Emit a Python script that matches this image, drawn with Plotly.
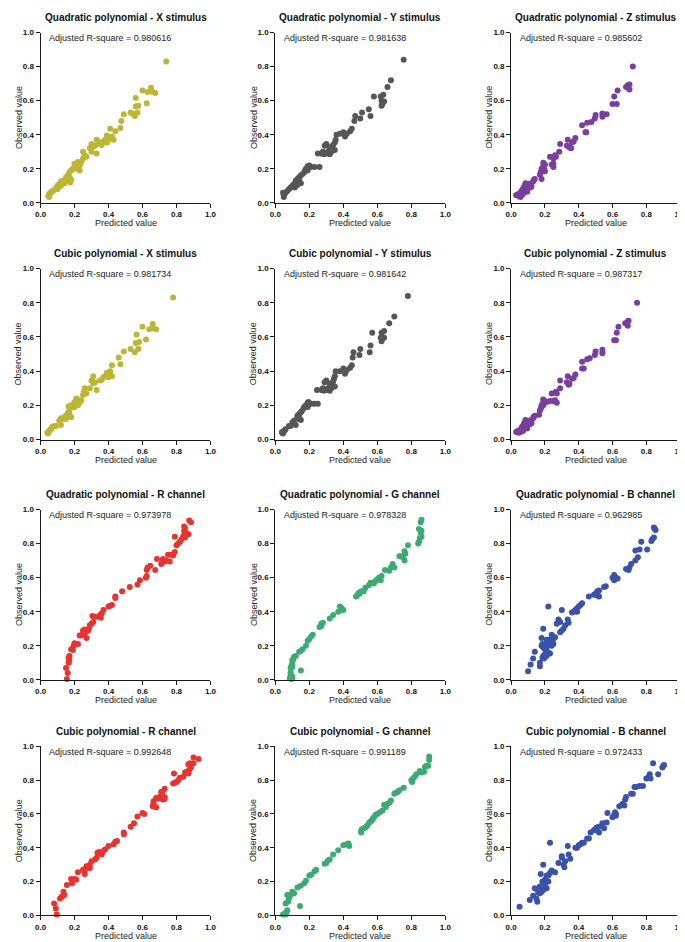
import plotly.graph_objects as go

W, H = 685, 942

titles = [
    "Quadratic polynomial - X stimulus", "Quadratic polynomial - Y stimulus", "Quadratic polynomial - Z stimulus",
    "Cubic polynomial - X stimulus", "Cubic polynomial - Y stimulus", "Cubic polynomial - Z stimulus",
    "Quadratic polynomial - R channel", "Quadratic polynomial - G channel", "Quadratic polynomial - B channel",
    "Cubic polynomial - R channel", "Cubic polynomial - G channel", "Cubic polynomial - B channel",
]
r_square = ["0.980616", "0.981638", "0.985602", "0.981734", "0.981642", "0.987317",
            "0.973978", "0.978328", "0.962985", "0.992648", "0.991189", "0.972433"]
colors = ["#BDB535", "#565656", "#7A3E9D", "#BDB535", "#565656", "#7A3E9D",
          "#E8332F", "#3DAA74", "#3A52A8", "#E8332F", "#3DAA74", "#3A52A8"]
tick_vals = [0.0, 0.2, 0.4, 0.6, 0.8, 1.0]
tick_text = ["0.0", "0.2", "0.4", "0.6", "0.8", "1.0"]

# (predicted, observed)
quad_x = [(0.74,0.83),(0.60,0.66),(0.63,0.65),(0.65,0.675),(0.66,0.65),(0.675,0.645),(0.625,0.585),(0.56,0.615),
          (0.56,0.565),(0.575,0.57),(0.57,0.53),(0.555,0.51),(0.54,0.525),(0.53,0.53),(0.49,0.52),(0.475,0.48),
          (0.47,0.44),(0.44,0.42),(0.41,0.435),(0.42,0.39),(0.40,0.38),(0.39,0.395),(0.38,0.37),(0.37,0.36),
          (0.355,0.35),(0.34,0.36),(0.33,0.37),(0.41,0.375),(0.43,0.37),(0.39,0.355),(0.36,0.34),(0.30,0.345),
          (0.31,0.33),(0.32,0.335),(0.30,0.30),(0.33,0.29),(0.25,0.30),(0.26,0.28),(0.25,0.26),(0.27,0.27),
          (0.22,0.24),(0.20,0.23),(0.21,0.215),(0.23,0.22),(0.24,0.24),(0.19,0.20),(0.18,0.19),(0.17,0.18),
          (0.16,0.16),(0.17,0.15),(0.18,0.135),(0.175,0.12),(0.15,0.15),(0.14,0.13),(0.12,0.125),(0.13,0.13),
          (0.11,0.11),(0.10,0.10),(0.095,0.09),(0.10,0.08),(0.09,0.085),(0.08,0.075),(0.07,0.07),(0.065,0.065),
          (0.06,0.06),(0.055,0.055),(0.05,0.05),(0.045,0.04),(0.05,0.035),(0.12,0.10),(0.14,0.115),(0.21,0.20),
          (0.23,0.19),(0.29,0.32),(0.35,0.345),(0.15,0.135)]
quad_y = [(0.755,0.84),(0.68,0.72),(0.66,0.68),(0.635,0.635),(0.62,0.625),(0.58,0.625),(0.625,0.60),(0.64,0.595),
          (0.63,0.58),(0.625,0.57),(0.55,0.55),(0.56,0.51),(0.51,0.53),(0.50,0.495),(0.47,0.51),(0.465,0.48),
          (0.45,0.435),(0.44,0.42),(0.41,0.39),(0.40,0.415),(0.38,0.405),(0.36,0.40),(0.42,0.405),(0.355,0.37),
          (0.35,0.355),(0.34,0.34),(0.33,0.33),(0.32,0.32),(0.30,0.345),(0.29,0.335),(0.31,0.30),(0.32,0.285),
          (0.30,0.29),(0.28,0.30),(0.27,0.29),(0.25,0.29),(0.33,0.30),(0.35,0.31),(0.26,0.21),(0.23,0.21),
          (0.21,0.21),(0.20,0.22),(0.19,0.215),(0.18,0.20),(0.175,0.19),(0.17,0.18),(0.16,0.17),(0.15,0.16),
          (0.14,0.15),(0.15,0.115),(0.14,0.13),(0.13,0.14),(0.12,0.13),(0.12,0.115),(0.11,0.11),(0.10,0.10),
          (0.115,0.09),(0.09,0.09),(0.08,0.08),(0.07,0.07),(0.06,0.06),(0.055,0.055),(0.05,0.045),(0.05,0.035),
          (0.045,0.06),(0.13,0.105),(0.19,0.19),(0.285,0.285)]
quad_z = [(0.72,0.80),(0.69,0.69),(0.70,0.695),(0.70,0.665),(0.68,0.68),(0.63,0.66),(0.61,0.625),(0.625,0.58),
          (0.60,0.58),(0.565,0.52),(0.54,0.525),(0.54,0.505),(0.50,0.515),(0.495,0.495),(0.475,0.475),(0.45,0.47),
          (0.42,0.455),(0.44,0.415),(0.445,0.415),(0.38,0.38),(0.37,0.36),(0.36,0.355),(0.345,0.325),(0.335,0.37),
          (0.33,0.335),(0.355,0.32),(0.29,0.345),(0.285,0.30),(0.26,0.28),(0.265,0.27),(0.23,0.27),(0.25,0.26),
          (0.24,0.225),(0.25,0.21),(0.25,0.23),(0.19,0.235),(0.20,0.225),(0.19,0.215),(0.195,0.20),(0.185,0.19),
          (0.175,0.18),(0.17,0.165),(0.18,0.14),(0.14,0.14),(0.135,0.135),(0.13,0.125),(0.12,0.115),(0.115,0.105),
          (0.10,0.10),(0.09,0.11),(0.085,0.115),(0.08,0.10),(0.075,0.09),(0.07,0.08),(0.065,0.075),(0.06,0.065),
          (0.05,0.055),(0.04,0.05),(0.03,0.045),(0.045,0.04),(0.055,0.035),(0.08,0.07),(0.09,0.075),(0.10,0.085),
          (0.11,0.09),(0.095,0.065),(0.12,0.095),(0.07,0.05),(0.06,0.045),(0.105,0.11),(0.20,0.185),(0.18,0.20)]
cubic_x = [(0.78,0.83),(0.60,0.66),(0.64,0.645),(0.66,0.675),(0.665,0.65),(0.68,0.645),(0.62,0.585),(0.565,0.615),
           (0.56,0.565),(0.58,0.57),(0.575,0.53),(0.555,0.51),(0.53,0.53),(0.49,0.515),(0.46,0.48),(0.47,0.44),
           (0.42,0.435),(0.41,0.40),(0.40,0.38),(0.39,0.39),(0.38,0.37),(0.37,0.365),(0.36,0.35),(0.35,0.345),
           (0.42,0.37),(0.40,0.365),(0.31,0.37),(0.30,0.345),(0.31,0.33),(0.32,0.335),(0.33,0.29),(0.29,0.30),
           (0.26,0.30),(0.255,0.28),(0.25,0.26),(0.27,0.27),(0.22,0.235),(0.21,0.24),(0.20,0.22),(0.23,0.215),
           (0.24,0.23),(0.18,0.20),(0.165,0.195),(0.19,0.19),(0.17,0.17),(0.16,0.155),(0.17,0.145),(0.18,0.13),
           (0.15,0.14),(0.14,0.13),(0.12,0.125),(0.13,0.12),(0.12,0.085),(0.11,0.11),(0.09,0.08),(0.08,0.08),
           (0.07,0.075),(0.065,0.065),(0.06,0.06),(0.055,0.055),(0.05,0.05),(0.04,0.04),(0.045,0.035),(0.20,0.19),
           (0.22,0.20),(0.15,0.12)]
cubic_y = [(0.78,0.84),(0.70,0.72),(0.67,0.68),(0.64,0.635),(0.625,0.625),(0.57,0.625),(0.62,0.595),(0.64,0.595),
           (0.625,0.575),(0.63,0.60),(0.56,0.55),(0.555,0.51),(0.50,0.53),(0.495,0.495),(0.46,0.51),(0.455,0.48),
           (0.45,0.435),(0.44,0.42),(0.41,0.385),(0.40,0.415),(0.38,0.40),(0.355,0.40),(0.42,0.405),(0.35,0.37),
           (0.345,0.355),(0.34,0.34),(0.33,0.33),(0.32,0.32),(0.30,0.345),(0.29,0.335),(0.31,0.30),(0.32,0.285),
           (0.30,0.29),(0.28,0.30),(0.27,0.29),(0.245,0.29),(0.33,0.30),(0.35,0.31),(0.25,0.21),(0.23,0.21),
           (0.21,0.21),(0.195,0.22),(0.19,0.215),(0.18,0.20),(0.17,0.19),(0.165,0.18),(0.155,0.165),(0.15,0.16),
           (0.14,0.15),(0.15,0.115),(0.14,0.13),(0.13,0.14),(0.13,0.13),(0.12,0.085),(0.11,0.11),(0.10,0.10),
           (0.09,0.08),(0.08,0.08),(0.06,0.06),(0.055,0.055),(0.05,0.05),(0.04,0.045),(0.045,0.035),(0.04,0.04),
           (0.14,0.12),(0.19,0.19),(0.285,0.285)]
cubic_z = [(0.745,0.80),(0.69,0.69),(0.695,0.695),(0.69,0.665),(0.675,0.68),(0.635,0.66),(0.625,0.625),(0.62,0.58),
           (0.61,0.58),(0.54,0.525),(0.54,0.505),(0.50,0.515),(0.495,0.495),(0.465,0.475),(0.45,0.47),(0.42,0.455),
           (0.42,0.415),(0.43,0.415),(0.38,0.38),(0.37,0.36),(0.36,0.355),(0.345,0.325),(0.335,0.37),(0.33,0.335),
           (0.34,0.32),(0.29,0.345),(0.29,0.30),(0.265,0.28),(0.27,0.27),(0.24,0.27),(0.25,0.225),(0.27,0.215),
           (0.26,0.23),(0.23,0.225),(0.19,0.235),(0.20,0.225),(0.19,0.215),(0.19,0.20),(0.18,0.19),(0.175,0.18),
           (0.17,0.17),(0.165,0.145),(0.14,0.14),(0.135,0.135),(0.13,0.125),(0.12,0.115),(0.115,0.105),(0.10,0.10),
           (0.09,0.11),(0.085,0.115),(0.08,0.10),(0.075,0.09),(0.07,0.08),(0.065,0.075),(0.06,0.065),(0.05,0.055),
           (0.04,0.05),(0.03,0.045),(0.045,0.04),(0.055,0.045),(0.08,0.07),(0.09,0.075),(0.10,0.085),(0.11,0.09),
           (0.095,0.065),(0.12,0.095),(0.07,0.05),(0.06,0.05),(0.105,0.11),(0.21,0.22),(0.18,0.20)]
quad_r = [(0.875,0.935),(0.885,0.925),(0.845,0.90),(0.85,0.89),(0.845,0.875),(0.86,0.86),(0.87,0.855),(0.84,0.845),
          (0.85,0.835),(0.83,0.825),(0.82,0.81),(0.81,0.80),(0.80,0.79),(0.79,0.84),(0.79,0.75),(0.78,0.73),
          (0.77,0.735),(0.75,0.735),(0.74,0.70),(0.72,0.71),(0.715,0.69),(0.71,0.68),(0.73,0.695),(0.76,0.695),
          (0.685,0.71),(0.675,0.645),(0.645,0.67),(0.63,0.66),(0.625,0.645),(0.625,0.61),(0.62,0.60),(0.585,0.585),
          (0.57,0.56),(0.525,0.545),(0.48,0.52),(0.44,0.49),(0.44,0.48),(0.42,0.44),(0.41,0.435),(0.40,0.43),
          (0.37,0.41),(0.36,0.39),(0.35,0.38),(0.355,0.365),(0.34,0.37),(0.32,0.37),(0.305,0.375),(0.31,0.34),
          (0.30,0.33),(0.29,0.32),(0.285,0.30),(0.28,0.29),(0.27,0.285),(0.26,0.295),(0.25,0.29),(0.24,0.26),
          (0.25,0.27),(0.27,0.245),(0.26,0.27),(0.23,0.26),(0.22,0.21),(0.20,0.215),(0.195,0.20),(0.18,0.18),
          (0.19,0.175),(0.17,0.14),(0.165,0.13),(0.17,0.115),(0.165,0.10),(0.15,0.07),(0.16,0.04),(0.155,0.005)]
quad_g = [(0.86,0.94),(0.855,0.925),(0.845,0.885),(0.86,0.875),(0.855,0.86),(0.86,0.84),(0.85,0.83),(0.845,0.81),
          (0.84,0.80),(0.78,0.79),(0.76,0.755),(0.765,0.74),(0.74,0.725),(0.75,0.72),(0.73,0.725),(0.76,0.70),
          (0.69,0.68),(0.68,0.66),(0.67,0.64),(0.70,0.66),(0.645,0.645),(0.625,0.61),(0.61,0.60),(0.60,0.59),
          (0.62,0.585),(0.59,0.58),(0.575,0.57),(0.56,0.57),(0.58,0.565),(0.55,0.555),(0.53,0.54),(0.52,0.52),
          (0.505,0.52),(0.495,0.505),(0.49,0.51),(0.475,0.49),(0.48,0.495),(0.40,0.41),(0.39,0.42),(0.38,0.43),
          (0.37,0.40),(0.34,0.38),(0.32,0.36),(0.28,0.335),(0.27,0.33),(0.26,0.31),(0.27,0.315),(0.22,0.265),
          (0.21,0.255),(0.20,0.24),(0.19,0.23),(0.18,0.20),(0.16,0.18),(0.15,0.17),(0.14,0.165),(0.12,0.14),
          (0.11,0.135),(0.105,0.12),(0.10,0.115),(0.10,0.095),(0.095,0.085),(0.10,0.075),(0.09,0.07),(0.15,0.055),
          (0.09,0.03),(0.10,0.02),(0.085,0.01),(0.095,0.005),(0.10,0.01),(0.09,0.045)]
quad_b = [(0.845,0.895),(0.85,0.885),(0.855,0.88),(0.845,0.835),(0.835,0.825),(0.83,0.815),(0.805,0.765),(0.77,0.81),
          (0.76,0.765),(0.735,0.76),(0.75,0.72),(0.735,0.70),(0.71,0.68),(0.70,0.66),(0.695,0.645),(0.68,0.65),
          (0.62,0.60),(0.61,0.615),(0.60,0.60),(0.61,0.585),(0.63,0.595),(0.56,0.55),(0.55,0.545),(0.52,0.525),
          (0.51,0.52),(0.50,0.505),(0.49,0.50),(0.52,0.49),(0.51,0.495),(0.46,0.49),(0.42,0.45),(0.41,0.44),
          (0.40,0.43),(0.39,0.42),(0.38,0.41),(0.37,0.40),(0.36,0.395),(0.39,0.40),(0.30,0.41),(0.22,0.43),
          (0.335,0.355),(0.32,0.32),(0.31,0.30),(0.30,0.29),(0.29,0.28),(0.34,0.335),(0.28,0.355),(0.27,0.33),
          (0.29,0.34),(0.26,0.25),(0.25,0.24),(0.24,0.265),(0.25,0.21),(0.24,0.20),(0.23,0.22),(0.22,0.235),
          (0.21,0.235),(0.22,0.20),(0.20,0.21),(0.19,0.30),(0.18,0.245),(0.185,0.21),(0.19,0.19),(0.20,0.18),
          (0.21,0.17),(0.22,0.16),(0.23,0.155),(0.20,0.15),(0.19,0.14),(0.185,0.13),(0.195,0.125),(0.21,0.14),
          (0.14,0.165),(0.13,0.125),(0.115,0.09),(0.17,0.10),(0.17,0.08),(0.10,0.05),(0.18,0.20),(0.21,0.195)]
cubic_r = [(0.90,0.935),(0.93,0.925),(0.88,0.90),(0.87,0.895),(0.90,0.90),(0.885,0.875),(0.875,0.86),(0.86,0.85),
           (0.85,0.845),(0.87,0.84),(0.84,0.82),(0.82,0.815),(0.81,0.80),(0.80,0.79),(0.78,0.78),(0.785,0.84),
           (0.79,0.785),(0.73,0.75),(0.72,0.735),(0.71,0.73),(0.73,0.70),(0.70,0.70),(0.69,0.69),(0.68,0.695),
           (0.72,0.685),(0.73,0.69),(0.665,0.675),(0.66,0.645),(0.68,0.64),(0.665,0.66),(0.61,0.60),(0.60,0.605),
           (0.57,0.585),(0.55,0.545),(0.53,0.525),(0.49,0.49),(0.49,0.48),(0.45,0.44),(0.44,0.435),(0.43,0.42),
           (0.40,0.41),(0.38,0.39),(0.37,0.38),(0.36,0.36),(0.345,0.375),(0.335,0.37),(0.33,0.34),(0.32,0.33),
           (0.30,0.32),(0.29,0.30),(0.28,0.285),(0.29,0.28),(0.27,0.29),(0.26,0.265),(0.26,0.245),(0.25,0.27),
           (0.22,0.255),(0.21,0.21),(0.20,0.215),(0.18,0.215),(0.185,0.19),(0.155,0.18),(0.135,0.14),(0.14,0.12),
           (0.125,0.11),(0.115,0.10),(0.08,0.07),(0.09,0.04),(0.095,0.005)]
cubic_g = [(0.905,0.94),(0.905,0.92),(0.89,0.885),(0.88,0.88),(0.90,0.885),(0.875,0.85),(0.86,0.845),(0.85,0.855),
           (0.83,0.835),(0.82,0.82),(0.81,0.81),(0.80,0.80),(0.805,0.79),(0.755,0.755),(0.73,0.74),(0.72,0.73),
           (0.71,0.725),(0.70,0.72),(0.68,0.68),(0.67,0.665),(0.66,0.66),(0.64,0.655),(0.65,0.64),(0.63,0.62),
           (0.615,0.61),(0.60,0.60),(0.59,0.595),(0.58,0.58),(0.575,0.575),(0.57,0.565),(0.56,0.555),(0.55,0.545),
           (0.54,0.53),(0.53,0.52),(0.52,0.515),(0.51,0.51),(0.505,0.50),(0.505,0.49),(0.43,0.425),(0.435,0.41),
           (0.42,0.42),(0.40,0.415),(0.37,0.385),(0.34,0.36),(0.32,0.33),(0.31,0.325),(0.30,0.31),(0.29,0.305),
           (0.24,0.27),(0.23,0.26),(0.21,0.24),(0.20,0.235),(0.18,0.205),(0.17,0.19),(0.15,0.175),(0.13,0.165),
           (0.11,0.13),(0.10,0.14),(0.09,0.12),(0.08,0.10),(0.07,0.12),(0.075,0.08),(0.06,0.07),(0.145,0.055),
           (0.07,0.03),(0.065,0.02),(0.055,0.01),(0.045,0.005),(0.06,0.005),(0.065,0.015)]
cubic_b = [(0.84,0.90),(0.895,0.875),(0.90,0.885),(0.905,0.89),(0.87,0.835),(0.82,0.835),(0.815,0.82),(0.80,0.81),
           (0.825,0.81),(0.78,0.765),(0.76,0.765),(0.74,0.76),(0.73,0.76),(0.72,0.72),(0.71,0.72),(0.68,0.70),
           (0.675,0.685),(0.66,0.66),(0.67,0.65),(0.64,0.645),(0.62,0.60),(0.615,0.61),(0.61,0.595),(0.62,0.59),
           (0.60,0.58),(0.57,0.605),(0.565,0.55),(0.54,0.545),(0.52,0.525),(0.505,0.52),(0.50,0.505),(0.49,0.505),
           (0.52,0.49),(0.55,0.515),(0.47,0.49),(0.45,0.455),(0.42,0.43),(0.41,0.42),(0.40,0.415),(0.39,0.40),
           (0.38,0.40),(0.43,0.43),(0.46,0.455),(0.335,0.41),(0.23,0.43),(0.35,0.335),(0.34,0.36),(0.32,0.32),
           (0.31,0.30),(0.315,0.285),(0.30,0.35),(0.30,0.34),(0.28,0.31),(0.26,0.255),(0.24,0.265),(0.23,0.25),
           (0.22,0.235),(0.21,0.235),(0.20,0.21),(0.19,0.30),(0.175,0.245),(0.185,0.20),(0.19,0.19),(0.20,0.18),
           (0.21,0.16),(0.19,0.15),(0.18,0.14),(0.17,0.13),(0.16,0.135),(0.15,0.155),(0.14,0.16),(0.13,0.115),
           (0.15,0.10),(0.155,0.08),(0.11,0.09),(0.05,0.05),(0.17,0.17),(0.22,0.20)]

panels = [quad_x, quad_y, quad_z, cubic_x, cubic_y, cubic_z,
          quad_r, quad_g, quad_b, cubic_r, cubic_g, cubic_b]

# layout geometry in pixels
col_left = [27, 266, 506]
col_right = [200, 439, 678]
row_top = [20.7, 259, 502.3, 741.5]
row_bot = [192.7, 431.7, 674.3, 912]
xtitle_gap = [20.5, 20.5, 20.5, 20.5]

FONT = "Liberation Sans, Arial, Helvetica, sans-serif"
fig = go.Figure()
annotations = []
layout = {}
for i, pts in enumerate(panels):
    r, c = divmod(i, 3)
    n = "" if i == 0 else str(i + 1)
    xs = [p[0] for p in pts]
    ys = [p[1] for p in pts]
    fig.add_trace(go.Scatter(x=xs, y=ys, mode="markers", xaxis="x" + n, yaxis="y" + n,
                             marker=dict(size=6, color=colors[i], line=dict(width=0)),
                             cliponaxis=False, showlegend=False, hoverinfo="skip"))
    L, R = col_left[c], col_right[c]
    T, B = row_top[r], row_bot[r]
    axis_common = dict(range=[0, 1], showgrid=False, zeroline=False, showline=True, linecolor="#1a1a1a",
                       linewidth=1, ticks="outside", ticklen=4, tickwidth=1, tickcolor="#1a1a1a",
                       tickvals=tick_vals, ticktext=tick_text,
                       tickfont=dict(family=FONT, size=8, color="#111111", weight="bold"), fixedrange=True)
    layout["xaxis" + n] = dict(domain=[L / W, R / W], anchor="y" + n, **axis_common)
    layout["yaxis" + n] = dict(domain=[1 - B / H, 1 - T / H], anchor="x" + n, **axis_common)
    cx = (L + R) / 2
    cy = (T + B) / 2
    annotations.append(dict(text="<b>" + titles[i] + "</b>", x=cx / W, y=1 - (T - 15.5) / H, xref="paper", yref="paper",
                            xanchor="center", yanchor="middle", showarrow=False,
                            font=dict(family=FONT, size=10, color="#111111")))
    annotations.append(dict(text="Adjusted R-square = " + r_square[i], x=(L + 7) / W, y=1 - (T + 6) / H,
                            xref="paper", yref="paper", xanchor="left", yanchor="middle", showarrow=False,
                            font=dict(family=FONT, size=9, color="#222222")))
    annotations.append(dict(text="Predicted value", x=cx / W, y=1 - (B + xtitle_gap[r]) / H, xref="paper", yref="paper",
                            xanchor="center", yanchor="middle", showarrow=False,
                            font=dict(family=FONT, size=9, color="#222222")))
    annotations.append(dict(text="Observed value", x=(L - 22.5) / W, y=1 - cy / H, xref="paper", yref="paper",
                            xanchor="center", yanchor="middle", showarrow=False, textangle=-90,
                            font=dict(family=FONT, size=9, color="#222222")))

fig.update_layout(width=W, height=H, margin=dict(l=0, r=0, t=0, b=0), paper_bgcolor="white",
                  plot_bgcolor="white", annotations=annotations, **layout)
fig.write_html("out.html")
